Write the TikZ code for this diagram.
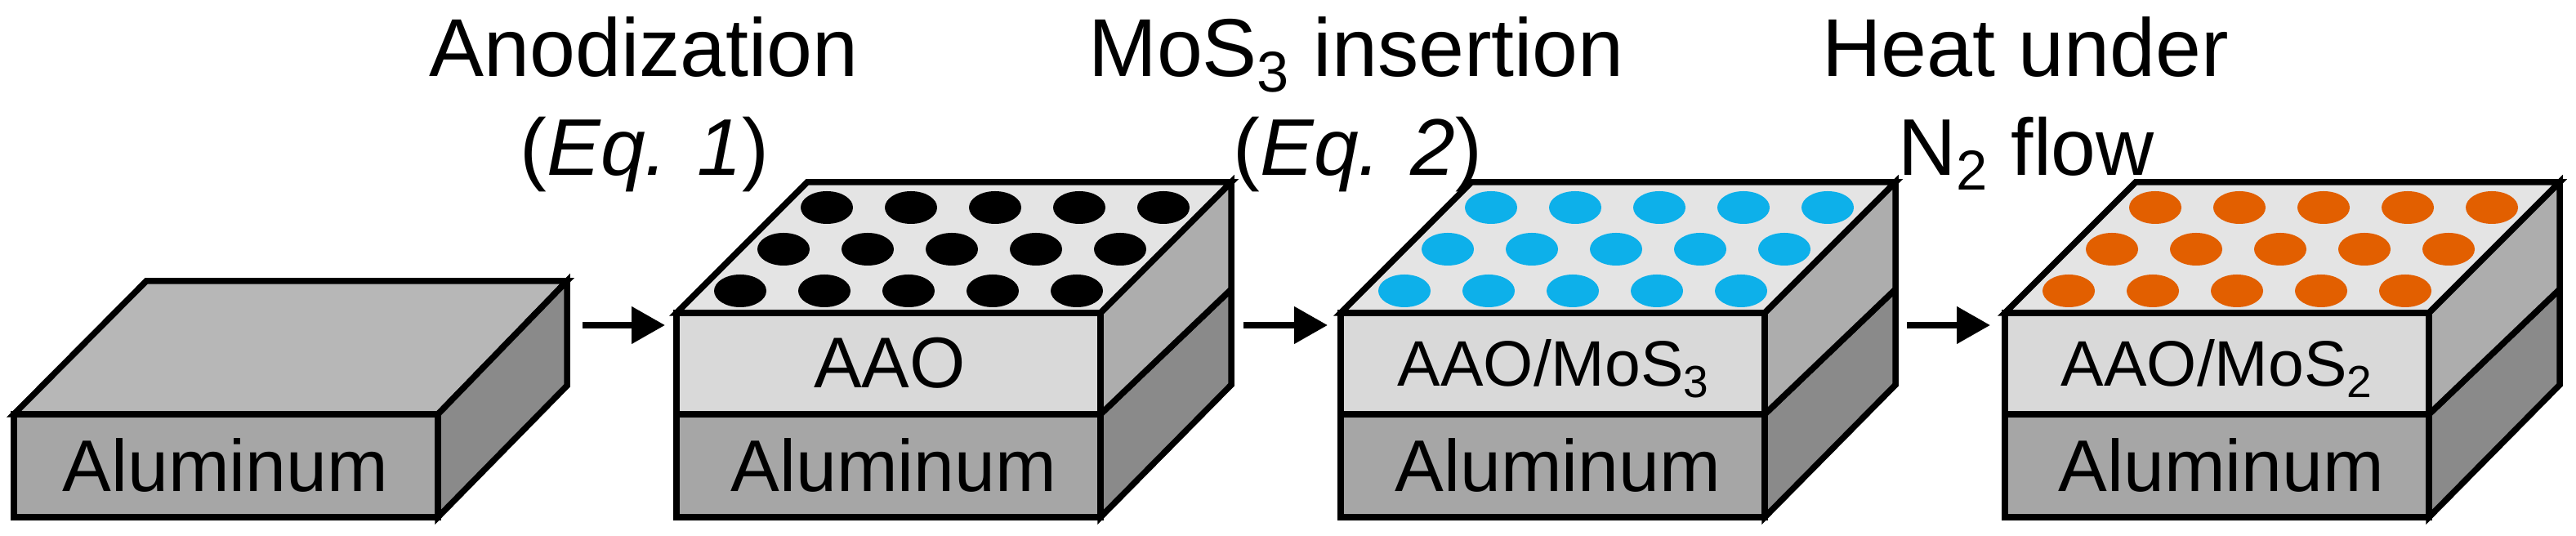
\documentclass[tikz,border=0pt]{standalone}
\usepackage{fontspec}
\setmainfont{Liberation Sans}
\usetikzlibrary{arrows.meta}
\definecolor{alufront}{HTML}{A6A6A6}
\definecolor{alutop}{HTML}{B7B7B7}
\definecolor{aluside}{HTML}{8A8A8A}
\definecolor{aaofront}{HTML}{D9D9D9}
\definecolor{aaotop}{HTML}{E4E4E4}
\definecolor{aaoside}{HTML}{ADADAD}
\definecolor{poreblue}{HTML}{0DB0EA}
\definecolor{poreorange}{HTML}{E25F00}
\tikzstyle{face} = [draw=black,line width=0.75mm,line join=miter]
\tikzstyle{head} = [anchor=base,inner sep=0pt,font=\fontsize{28.6}{30}\selectfont]
\tikzstyle{eqhead} = [anchor=base,inner sep=0pt,font=\fontsize{28}{30}\selectfont]
\tikzstyle{alulabel} = [anchor=base,inner sep=0pt,font=\fontsize{25.5}{30}\selectfont]
\tikzstyle{aaolabel} = [anchor=base,inner sep=0pt,font=\fontsize{22.4}{30}\selectfont]
\tikzstyle{step arrow} = [line width=0.8mm,-{Triangle[length=4.1mm,width=4.4mm]}]

\begin{document}
\begin{tikzpicture}
  \useasboundingbox (0,0) rectangle (31.53,6.56);

  % bare aluminum block
  \draw[face,fill=alufront] (0.17,0.23) rectangle (5.36,1.49);
  \draw[face,fill=alutop] (0.17,1.49) -- (1.79,3.12) -- (6.94,3.12) -- (5.36,1.49) -- cycle;
  \draw[face,fill=aluside] (5.36,0.23) -- (6.94,1.84) -- (6.94,3.12) -- (5.36,1.49) -- cycle;
  \node[alulabel] (alu1) at (2.76,0.54) {Aluminum};

  % the three anodized blocks
  \foreach \bx/\porecol in {8.28/black,16.41/poreblue,24.54/poreorange} {
    \draw[face,fill=alufront] (\bx,0.23) rectangle ++(5.19,1.26);
    \draw[face,fill=aaofront] (\bx,1.49) rectangle ++(5.19,1.24);
    \draw[face,fill=aaotop] (\bx,2.73) -- ++(1.6,1.6) -- ++(5.19,0) -- ++(-1.6,-1.6) -- cycle;
    \draw[face,fill=aluside] (\bx+5.19,0.23) -- ++(1.6,1.62) -- ++(0,1.17) -- ++(-1.6,-1.53) -- cycle;
    \draw[face,fill=aaoside] (\bx+5.19,1.49) -- ++(1.6,1.53) -- ++(0,1.31) -- ++(-1.6,-1.6) -- cycle;
    \foreach \row in {0,1,2}
      \foreach \col in {0,1,2,3,4}
        \fill[\porecol] (\bx+0.78+0.53*\row+1.03*\col,3.00+0.51*\row) ellipse (0.32 and 0.2);
  }

  \node[alulabel] (alu2) at (10.94,0.54) {Aluminum};
  \node[alulabel] (alu3) at (19.07,0.54) {Aluminum};
  \node[alulabel] (alu4) at (27.19,0.54) {Aluminum};
  \node[alulabel,font=\fontsize{25}{30}\selectfont] (aao2) at (10.89,1.81) {AAO};
  \node[aaolabel] (aao3) at (19.02,1.83) {AAO/MoS\textsubscript{3}};
  \node[aaolabel] (aao4) at (27.14,1.83) {AAO/MoS\textsubscript{2}};

  % arrows between the blocks
  \coordinate (a1s) at (7.13,2.58);
  \coordinate (a1e) at (8.14,2.58);
  \coordinate (a2s) at (15.22,2.58);
  \coordinate (a2e) at (16.25,2.58);
  \coordinate (a3s) at (23.34,2.58);
  \coordinate (a3e) at (24.36,2.58);
  \draw[step arrow] (a1s) -- (a1e);
  \draw[step arrow] (a2s) -- (a2e);
  \draw[step arrow] (a3s) -- (a3e);

  \node[head] (anod) at (7.88,5.62) {Anodization};
  \node[eqhead] (eq1) at (7.89,4.41) {(\textit{Eq. 1})};
  \node[head] (ins) at (16.60,5.62) {MoS\textsubscript{3} insertion};
  \node[eqhead] (eq2) at (16.62,4.41) {(\textit{Eq. 2})};
  \node[head] (heat) at (24.79,5.62) {Heat under};
  \node[eqhead] (flow) at (24.80,4.41) {N\textsubscript{2} flow};
\end{tikzpicture}
\end{document}
